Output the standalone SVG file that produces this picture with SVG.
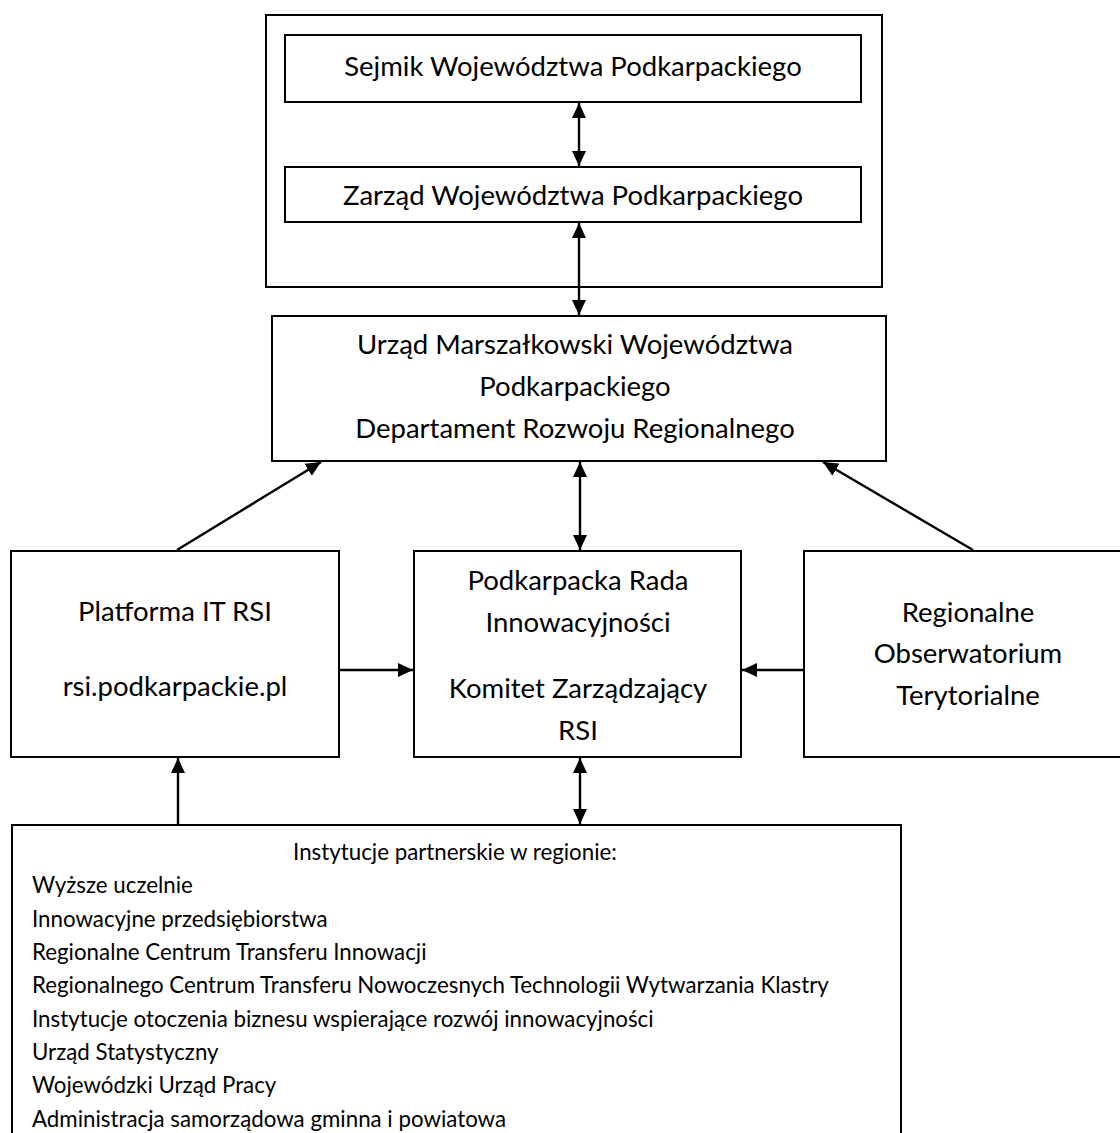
<svg xmlns="http://www.w3.org/2000/svg" width="1120" height="1133" viewBox="0 0 1120 1133">
<style>
.box{fill:#fff;stroke:#000;stroke-width:2}
.t{font-family:Lato,"Open Sans","Liberation Sans",sans-serif;font-size:27.5px;fill:#000;text-anchor:middle}
.l{font-family:Lato,"Open Sans","Liberation Sans",sans-serif;font-size:22.3px;fill:#000}
.c{stroke:#000;stroke-width:2.4;fill:none}
</style>
<defs>
<marker id="ah" markerUnits="userSpaceOnUse" markerWidth="16" markerHeight="15" refX="15" refY="7.5" orient="auto-start-reverse">
<path d="M0,0.5 L15,7.5 L0,14.5 z" fill="#000"/>
</marker>
</defs>
<rect width="1120" height="1133" fill="#fff"/>
<g id="organy">
<rect class="box" x="266" y="15" width="616" height="272"/>
</g>
<g id="sejmik">
<rect class="box" x="285" y="35" width="576" height="67"/>
<text class="t" x="573" y="76">Sejmik Województwa Podkarpackiego</text>
</g>
<g id="zarzad">
<rect class="box" x="285" y="167" width="576" height="55"/>
<text class="t" x="573" y="205">Zarząd Województwa Podkarpackiego</text>
</g>
<g id="urzad">
<rect class="box" x="272" y="316" width="614" height="145"/>
<text class="t" x="575" y="354">Urząd Marszałkowski Województwa</text>
<text class="t" x="575" y="396">Podkarpackiego</text>
<text class="t" x="575" y="438">Departament Rozwoju Regionalnego</text>
</g>
<g id="platforma">
<rect class="box" x="11" y="551" width="328" height="206"/>
<text class="t" x="175" y="621">Platforma IT RSI</text>
<text class="t" x="175" y="696">rsi.podkarpackie.pl</text>
</g>
<g id="rada">
<rect class="box" x="414" y="551" width="327" height="206"/>
<text class="t" x="578" y="590">Podkarpacka Rada</text>
<text class="t" x="578" y="632">Innowacyjności</text>
<text class="t" x="578" y="698">Komitet Zarządzający</text>
<text class="t" x="578" y="740">RSI</text>
</g>
<g id="obserwatorium">
<rect class="box" x="804" y="551" width="330" height="206"/>
<text class="t" x="968" y="622">Regionalne</text>
<text class="t" x="968" y="663">Obserwatorium</text>
<text class="t" x="968" y="705">Terytorialne</text>
</g>
<g id="instytucje">
<rect class="box" x="12" y="825" width="889" height="320"/>
<text class="l" x="455" y="860" text-anchor="middle">Instytucje partnerskie w regionie:</text>
<text class="l" x="32" y="893">Wyższe uczelnie</text>
<text class="l" x="32" y="927">Innowacyjne przedsiębiorstwa</text>
<text class="l" x="32" y="960">Regionalne Centrum Transferu Innowacji</text>
<text class="l" x="32" y="993">Regionalnego Centrum Transferu Nowoczesnych Technologii Wytwarzania Klastry</text>
<text class="l" x="32" y="1027">Instytucje otoczenia biznesu wspierające rozwój innowacyjności</text>
<text class="l" x="32" y="1060">Urząd Statystyczny</text>
<text class="l" x="32" y="1093">Wojewódzki Urząd Pracy</text>
<text class="l" x="32" y="1127">Administracja samorządowa gminna i powiatowa</text>
</g>
<g id="connectors">
<line class="c" x1="579" y1="103" x2="579" y2="166" marker-start="url(#ah)" marker-end="url(#ah)"/>
<line class="c" x1="579" y1="223" x2="579" y2="315" marker-start="url(#ah)" marker-end="url(#ah)"/>
<line class="c" x1="177" y1="550" x2="321" y2="462" marker-end="url(#ah)"/>
<line class="c" x1="580" y1="462" x2="580" y2="550" marker-start="url(#ah)" marker-end="url(#ah)"/>
<line class="c" x1="973" y1="550" x2="823" y2="462" marker-end="url(#ah)"/>
<line class="c" x1="340" y1="670" x2="413" y2="670" marker-end="url(#ah)"/>
<line class="c" x1="803" y1="670" x2="742" y2="670" marker-end="url(#ah)"/>
<line class="c" x1="178" y1="824" x2="178" y2="758" marker-end="url(#ah)"/>
<line class="c" x1="580" y1="758" x2="580" y2="824" marker-start="url(#ah)" marker-end="url(#ah)"/>
</g>
</svg>
